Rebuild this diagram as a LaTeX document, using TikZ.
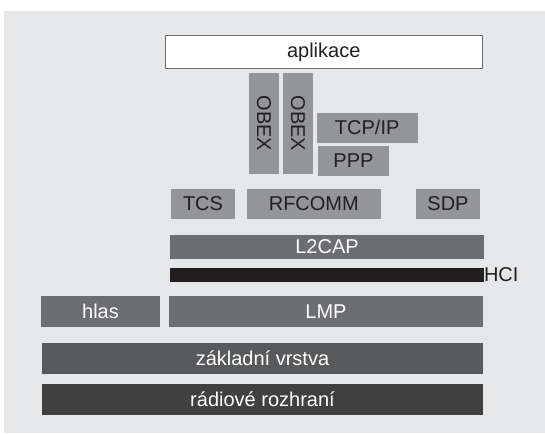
\documentclass[tikz,border=0pt]{standalone}
\usepackage{fontspec}
\setmainfont{Liberation Sans}
\definecolor{panelgray}{HTML}{E6E7E8}
\definecolor{boxlight}{HTML}{939598}
\definecolor{boxmid}{HTML}{6D6E71}
\definecolor{boxdeep}{HTML}{58595B}
\definecolor{boxdarkest}{HTML}{404041}
\definecolor{hcibar}{HTML}{231F20}
\definecolor{textdark}{HTML}{231F20}
\begin{document}
\begin{tikzpicture}[x=1pt,y=-1pt,
  layer/.style={inner sep=0pt,outer sep=0pt,font=\fontsize{20}{24}\selectfont},
  lightlayer/.style={layer,fill=boxlight,text=textdark},
  midlayer/.style={layer,fill=boxmid,text=white},
  deeplayer/.style={layer,fill=boxdeep,text=white},
  radiolayer/.style={layer,fill=boxdarkest,text=white}]
  \useasboundingbox (0,0) rectangle (545,433);
  \fill[panelgray] (4,11) rectangle (545,433);
  % upper layers
  \node[layer,fill=white,draw=boxmid,line width=0.8pt,text=textdark,
    minimum width=317pt,minimum height=32.5pt] (app) at (323.7,52) {aplikace};
  \node[lightlayer,rotate=-90,minimum width=101.3pt,minimum height=30pt] (obexa) at (264,123.3) {OBEX};
  \node[lightlayer,rotate=-90,minimum width=101.3pt,minimum height=30pt] (obexb) at (298,123.3) {OBEX};
  \node[lightlayer,minimum width=101pt,minimum height=30pt] (tcpip) at (367.2,127.7) {TCP/IP};
  \node[lightlayer,minimum width=71pt,minimum height=29.7pt] (ppp) at (353.5,160.8) {PPP};
  \node[lightlayer,minimum width=64pt,minimum height=30pt] (tcs) at (203,203.7) {TCS};
  \node[lightlayer,minimum width=134.3pt,minimum height=30pt] (rfcomm) at (313.8,203.7) {RFCOMM};
  \node[lightlayer,minimum width=64pt,minimum height=30pt] (sdp) at (448,204) {SDP};
  % lower layers
  \node[midlayer,minimum width=314pt,minimum height=24pt] (l2cap) at (327,247) {L2CAP};
  \node[layer,fill=hcibar,minimum width=314pt,minimum height=14.3pt] (hci) at (327,274.8) {};
  \node[layer,text=textdark,anchor=west] (hcilabel) at (hci.east) {HCI};
  \node[midlayer,minimum width=119pt,minimum height=31pt] (hlas) at (100.5,311.5) {hlas};
  \node[midlayer,minimum width=314pt,minimum height=31pt] (lmp) at (326,311.5) {LMP};
  \node[deeplayer,minimum width=441pt,minimum height=31pt] (baseband) at (262.5,358.2) {základní vrstva};
  \node[radiolayer,minimum width=441pt,minimum height=31pt] (radio) at (262.5,399.5) {rádiové rozhraní};
\end{tikzpicture}
\end{document}
